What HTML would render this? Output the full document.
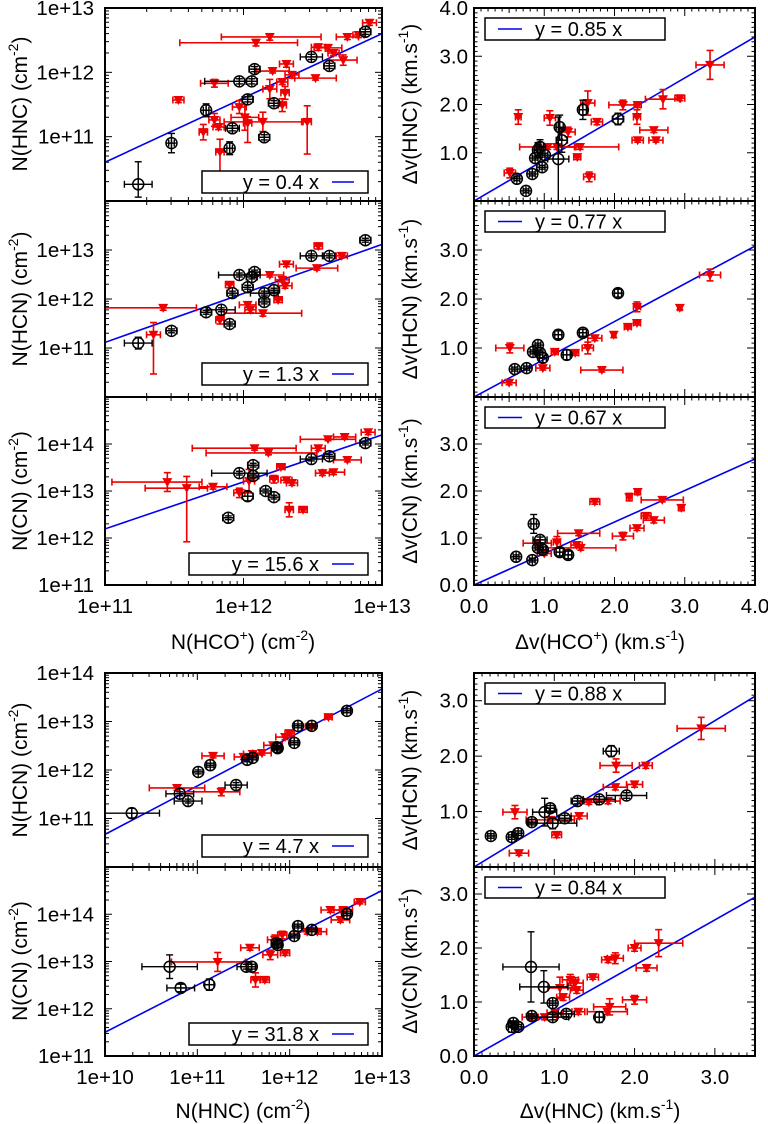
<!DOCTYPE html>
<html><head><meta charset="utf-8"><style>
html,body{margin:0;padding:0;background:#fff}
svg{display:block;font-family:"Liberation Sans",sans-serif}
</style></head><body>
<svg id="fig" width="768" height="1124" viewBox="0 0 768 1124" xmlns="http://www.w3.org/2000/svg"></svg>
<script>
// ---------- data (log10 values for column densities, km/s for linewidths) ----------
const slopes = [0.4, 1.3, 15.6, 0.85, 0.77, 0.67, 4.7, 31.8, 0.88, 0.84];
const legendLabels = ["y = 0.4 x","y = 1.3 x","y = 15.6 x","y = 0.85 x","y = 0.77 x","y = 0.67 x","y = 4.7 x","y = 31.8 x","y = 0.88 x","y = 0.84 x"];
const logTicksTopX = ["1e+11","1e+12","1e+13"];
const logTicksBotX = ["1e+10","1e+11","1e+12","1e+13"];
const linTicksTopX = ["0.0","1.0","2.0","3.0","4.0"];
const linTicksBotX = ["0.0","1.0","2.0","3.0"];

const hncHcoBlack = [[11.24,10.26,0.1,[0.2,0.35]],[11.48,10.9,0.02,0.15],[11.73,11.41,0.02,0.1],[11.92,11.13,0.05,0.04],[11.90,10.82,0.02,0.1],[11.97,11.86,[0.25,0.05],0.04],[12.06,11.86],[12.08,12.05],[12.03,11.58],[12.15,10.99],[12.22,11.52],[12.49,12.24,0.08,0.04],[12.62,12.10],[12.88,12.63]];
const hncHcoRed = [[11.53,11.57],[11.71,11.07,0.03,0.12],[11.79,11.83,0.1,0.06],[11.79,11.26,0.04,0.1],[11.83,10.76,0.03,[0.3,0.2]],[11.82,11.15],[11.97,11.46,0.05,0.1],[12.01,11.30,0.1,0.2],[12.03,11.21,0.03,[0.3,0.1]],[12.09,12.46,[0.55,0.30],0.05],[12.19,12.55,[0.35,0.37],0.05],[12.21,12.02,0.12,0.03],[12.19,11.74,0.05,0.15],[12.14,11.23,0.28,0.15],[12.28,11.85],[12.30,11.68,0.03,0.1],[12.28,11.49,0.03,0.1],[12.31,12.13,0.05,0.05],[12.35,11.96,0.05,0.05],[12.46,11.23,0.03,[0.5,0.25]],[12.52,11.91,0.15,0.03],[12.54,12.39,0.05,0.05],[12.61,12.38,0.1,0.05],[12.65,12.30],[12.72,12.19,0.1,0.08],[12.75,12.55,0.08,0.04],[12.83,12.58],[12.91,12.77,0.05,0.04]];

const hcnHcoBlack = [[11.24,11.10,0.1,0.12],[11.48,11.35],[11.90,11.49],[11.73,11.73],[11.84,11.78,0.1,0.04],[11.92,12.12],[11.97,12.49,0.15,0.04],[12.06,12.45],[12.08,12.55],[12.03,12.24],[12.15,11.94],[12.15,12.12,0.1,0.04],[12.22,12.18],[12.49,12.88,0.08,0.04],[12.62,12.88],[12.88,13.20]];
const hcnHcoRed = [[11.42,11.82,[0.42,0.24],0.05],[11.35,11.27,0.05,[0.8,0.25]],[11.83,11.57,0.03,0.08],[11.90,12.29,0.03,0.06],[12.03,11.88,0.06,0.05],[12.05,11.78,0.04,0.06],[12.14,11.71,0.28,0.06],[12.19,12.49,0.1,0.04],[12.25,11.98,0.03,0.05],[12.28,12.39,0.05,0.04],[12.30,12.27,0.05,0.05],[12.31,12.71,0.05,0.05],[12.53,12.63,0.15,0.04],[12.54,13.08,0.03,0.06],[12.71,12.88,0.04,0.04]];

const cnHcoBlack = [[11.89,12.43],[11.97,13.38,0.2,0.04],[12.07,13.55],[12.07,13.32],[12.03,12.89,0.04,0.1],[12.16,13.0],[12.22,12.87],[12.49,13.68,0.08,0.04],[12.62,13.74],[12.88,14.02]];
const cnHcoRed = [[11.45,13.19,[0.4,0.25],0.2],[11.59,13.06,[0.3,0.15],[1.14,0.25]],[11.78,13.09,0.1,0.05],[11.97,12.96,0.04,0.1],[12.04,13.21,0.04,0.25],[12.08,13.91,[0.45,0.3],0.04],[12.18,13.81,[0.45,0.35],0.04],[12.22,13.25,0.03,0.08],[12.27,13.51,0.03,0.05],[12.31,13.23,0.04,0.05],[12.35,13.17,0.04,0.05],[12.33,12.6,0.03,0.15],[12.43,12.6,0.03,0.05],[12.54,13.91,0.05,0.05],[12.61,14.1,0.2,0.03],[12.57,13.38,0.05,0.05],[12.65,13.40,0.08,0.05],[12.73,14.15,0.08,0.04],[12.75,13.66,0.1,0.04],[12.90,14.25,0.05,0.05]];

const dvHncBlack = [[0.61,0.46],[0.74,0.21],[0.83,0.56],[0.97,0.70],[0.87,0.89],[0.91,1.06,0.05,0.15],[0.94,1.12,0.05,0.15],[1.01,0.95],[1.20,0.87,0.15,0.87],[1.22,1.53,0.05,0.25],[1.25,1.26,0.08,0.25],[1.55,1.89,0.05,0.2],[2.05,1.70,0.08,0.12]];
const dvHncRed = [[0.51,0.58,0.08,0.1],[0.63,1.74,0.04,0.15],[1.08,1.72,0.08,0.15],[1.05,1.12,0.4,0.05],[1.18,1.12,0.25,0.05],[1.34,1.43,0.1,0.1],[1.47,0.91,0.05,0.05],[1.51,1.12,0.55,0.05],[1.62,2.03,0.1,0.25],[1.75,1.64,0.08,0.06],[1.64,0.50,0.08,0.1],[2.12,1.99,0.2,0.1],[2.33,1.99,0.05,0.05],[2.32,1.74,0.05,0.15],[2.33,1.26,0.08,0.04],[2.56,1.47,0.2,0.05],[2.59,1.26,0.1,0.04],[2.69,2.11,0.25,0.2],[2.93,2.13,0.07,0.05],[3.36,2.82,0.2,0.3]];

const dvHcnBlack = [[0.58,0.57],[0.75,0.59],[0.84,0.92],[0.91,1.06],[0.94,0.90],[0.98,0.80,0.05,0.1],[1.20,1.27,0.05,0.08],[1.32,0.86,0.05,0.1],[1.55,1.31,0.05,0.07],[2.05,2.12,0.05,0.08]];
const dvHcnRed = [[0.50,0.29,0.1,0.04],[0.51,1.0,0.2,0.1],[0.98,0.59,0.1,0.04],[1.15,0.92,0.05,0.05],[1.44,0.90,0.05,0.05],[1.62,1.0,0.08,0.12],[1.72,1.20,0.1,0.05],[1.82,0.55,0.3,0.04],[1.99,1.27,0.03,0.06],[2.19,1.43,0.05,0.04],[2.32,1.51,0.05,0.04],[2.32,1.84,0.05,0.1],[2.93,1.82,0.03,0.04],[3.36,2.49,0.15,0.12]];

const dvCnBlack = [[0.60,0.60],[0.83,0.53],[0.85,1.30,0.04,0.2],[0.94,0.96,0.1,0.06],[0.91,0.79],[0.98,0.75,0.05,0.06],[1.22,0.70,0.05,0.08],[1.34,0.64,0.05,0.08]];
const dvCnRed = [[0.90,0.89,0.2,0.05],[1.0,0.67,0.1,0.04],[1.18,0.91,0.05,0.12],[1.49,1.10,0.3,0.05],[1.46,0.85,0.08,0.05],[1.52,0.79,0.5,0.05],[1.72,1.77,0.07,0.05],[2.12,1.04,0.15,0.08],[2.21,1.87,0.04,0.08],[2.33,1.98,0.04,0.06],[2.32,1.21,0.1,0.05],[2.45,1.47,0.07,0.05],[2.56,1.38,0.15,0.06],[2.68,1.81,0.3,0.04],[2.95,1.64,0.04,0.06]];

const hcnHncBlack = [[10.29,11.11,[0.3,0.3],0.1],[10.81,11.51,0.15,0.04],[10.90,11.36,0.15,0.04],[11.01,11.96,0.05,0.04],[11.14,12.10,0.04,0.04],[11.42,11.69,0.12,0.05],[11.54,12.21,0.05,0.04],[11.60,12.25],[11.86,12.47,0.05,0.04],[11.87,12.45],[12.05,12.56],[12.09,12.91],[12.24,12.91],[12.62,13.22]];
const hcnHncRed = [[10.78,11.63,[0.3,0.3],0.05],[11.17,12.29,0.12,0.04],[11.26,11.55,[0.4,0.2],0.08],[11.50,12.27,0.1,0.05],[11.60,12.33,0.1,0.05],[11.70,12.35,0.1,0.04],[11.82,12.51,0.1,0.05],[11.95,12.68,0.1,0.05],[12.00,12.76,0.05,0.04],[12.22,12.89,0.05,0.04],[12.42,13.09,0.04,0.04]];

const cnHncBlack = [[10.70,12.89,0.3,0.25],[10.82,12.44,0.15,0.08],[11.13,12.51,0.05,0.12],[11.53,12.89,0.1,0.05],[11.59,12.89,0.04,0.05],[11.86,13.39,0.06,0.04],[11.87,13.35],[12.05,13.54],[12.09,13.75],[12.24,13.67],[12.62,14.01]];
const cnHncRed = [[11.22,12.99,[0.5,0.3],0.2],[11.57,13.29,0.1,0.05],[11.63,12.61,0.05,0.15],[11.73,12.61,0.05,0.05],[11.79,13.14,0.08,0.1],[11.84,13.46,0.08,0.1],[11.92,13.56,0.05,0.08],[11.95,13.18,0.05,0.05],[12.19,13.63,0.15,0.05],[12.30,13.63,0.1,0.05],[12.44,14.09,0.1,0.05],[12.55,13.88,0.1,0.05],[12.58,14.09,0.1,0.05],[12.76,14.26,0.06,0.04]];

const dvHcnHncBlack = [[0.21,0.56,0.04,0.04],[0.47,0.54],[0.55,0.61],[0.72,0.81,0.05,0.05],[0.88,0.99,0.15,0.25],[0.95,1.06,0.05,0.05],[0.98,0.79,0.3,0.1],[1.13,0.88,0.08,0.05],[1.29,1.19,0.08,0.05],[1.56,1.22,0.2,0.05],[1.71,2.09,0.1,0.1],[1.90,1.29,0.25,0.05]];
const dvHcnHncRed = [[0.51,0.99,0.15,0.12],[0.56,0.25,0.12,0.04],[0.95,0.85,0.3,0.05],[1.03,0.58,0.06,0.05],[1.31,0.92,0.1,0.05],[1.43,1.17,0.1,0.04],[1.67,1.19,0.15,0.05],[1.76,1.44,0.15,0.05],[1.77,1.83,0.2,0.12],[2.00,1.49,0.1,0.05],[2.14,1.83,0.08,0.05],[2.83,2.50,0.3,0.2]];

const dvCnHncBlack = [[0.47,0.54,0.04,0.1],[0.49,0.61],[0.55,0.54],[0.71,1.65,0.35,0.65],[0.72,0.74],[0.87,1.28,0.3,0.3],[0.98,0.98],[0.98,0.72,0.2,0.05],[1.15,0.78,0.1,0.05],[1.56,0.72,0.05,0.1]];
const dvCnHncRed = [[0.70,0.72,0.1,0.05],[0.88,0.72,0.15,0.05],[1.01,0.80,0.1,0.05],[1.11,1.09,0.08,0.06],[1.07,1.26,0.15,0.2],[1.20,1.41,0.1,0.1],[1.26,1.35,0.1,0.1],[1.28,1.22,0.08,0.06],[1.30,0.82,0.08,0.05],[1.48,1.46,0.07,0.04],[1.66,0.82,0.25,0.05],[1.69,0.91,0.2,0.15],[1.67,1.78,0.08,0.05],[1.76,1.81,0.1,0.1],[2.00,1.04,0.15,0.08],[2.00,2.0,0.08,0.06],[2.15,1.63,0.13,0.06],[2.30,2.09,0.3,0.25]];

// ---------- drawing ----------
const NS = "http://www.w3.org/2000/svg";
const svg = document.getElementById("fig");
function mk(tag, parent){ const e=document.createElementNS(NS,tag); parent.appendChild(e); return e; }

const panels = [
 {id:"hnc-vs-hco",log:true,x0:105,x1:382,y0:8,y1:201,xmin:11,xmax:13,ymin:10,ymax:13,yt:["1e+11","1e+12","1e+13"],ytv:[11,12,13],xt:null,leg:[202,171,368,193,"right"],black:hncHcoBlack,red:hncHcoRed,k:0},
 {id:"hcn-vs-hco",log:true,x0:105,x1:382,y0:201,y1:397,xmin:11,xmax:13,ymin:10,ymax:14,yt:["1e+11","1e+12","1e+13"],ytv:[11,12,13],xt:null,leg:[202,363,368,385,"right"],black:hcnHcoBlack,red:hcnHcoRed,k:1},
 {id:"cn-vs-hco",log:true,x0:105,x1:382,y0:397,y1:585,xmin:11,xmax:13,ymin:11,ymax:15,yt:["1e+11","1e+12","1e+13","1e+14"],ytv:[11,12,13,14],xt:logTicksTopX,xtv:[11,12,13],leg:[189,553,368,575,"right"],black:cnHcoBlack,red:cnHcoRed,k:2},
 {id:"dv-hnc-vs-hco",log:false,x0:474,x1:755,y0:8,y1:201,xmin:0,xmax:4,ymin:0,ymax:4,yt:["1.0","2.0","3.0","4.0"],ytv:[1,2,3,4],xt:null,leg:[485,18,665,40,"left"],black:dvHncBlack,red:dvHncRed,k:3},
 {id:"dv-hcn-vs-hco",log:false,x0:474,x1:755,y0:201,y1:397,xmin:0,xmax:4,ymin:0,ymax:4,yt:["1.0","2.0","3.0"],ytv:[1,2,3],xt:null,leg:[485,211,665,232,"left"],black:dvHcnBlack,red:dvHcnRed,k:4},
 {id:"dv-cn-vs-hco",log:false,x0:474,x1:755,y0:397,y1:585,xmin:0,xmax:4,ymin:0,ymax:4,yt:["0.0","1.0","2.0","3.0"],ytv:[0,1,2,3],xt:linTicksTopX,xtv:[0,1,2,3,4],leg:[485,407,665,428,"left"],black:dvCnBlack,red:dvCnRed,k:5},
 {id:"hcn-vs-hnc",log:true,x0:105,x1:382,y0:673,y1:867,xmin:10,xmax:13,ymin:10,ymax:14,yt:["1e+11","1e+12","1e+13","1e+14"],ytv:[11,12,13,14],xt:null,leg:[202,835,368,857,"right"],black:hcnHncBlack,red:hcnHncRed,k:6},
 {id:"cn-vs-hnc",log:true,x0:105,x1:382,y0:867,y1:1056,xmin:10,xmax:13,ymin:11,ymax:15,yt:["1e+11","1e+12","1e+13","1e+14"],ytv:[11,12,13,14],xt:logTicksBotX,xtv:[10,11,12,13],leg:[189,1023,368,1045,"right"],black:cnHncBlack,red:cnHncRed,k:7},
 {id:"dv-hcn-vs-hnc",log:false,x0:474,x1:755,y0:673,y1:867,xmin:0,xmax:3.5,ymin:0,ymax:3.5,yt:["1.0","2.0","3.0"],ytv:[1,2,3],xt:null,leg:[485,683,665,704,"left"],black:dvHcnHncBlack,red:dvHcnHncRed,k:8},
 {id:"dv-cn-vs-hnc",log:false,x0:474,x1:755,y0:867,y1:1056,xmin:0,xmax:3.5,ymin:0,ymax:3.5,yt:["0.0","1.0","2.0","3.0"],ytv:[0,1,2,3],xt:linTicksBotX,xtv:[0,1,2,3],leg:[485,877,665,898,"left"],black:dvCnHncBlack,red:dvCnHncRed,k:9}
];

function line(g,x1,y1,x2,y2,col,w){const l=mk("line",g);l.setAttribute("x1",x1);l.setAttribute("y1",y1);l.setAttribute("x2",x2);l.setAttribute("y2",y2);l.setAttribute("stroke",col);l.setAttribute("stroke-width",w);return l;}
function txt(g,x,y,s,anchor,size){const t=mk("text",g);t.setAttribute("x",x);t.setAttribute("y",y);t.setAttribute("text-anchor",anchor);t.setAttribute("font-size",size||20.5);t.textContent=s;return t;}

panels.forEach(p=>{
  const g=mk("g",svg);
  
  
  const sx=v=>p.x0+(v-p.xmin)/(p.xmax-p.xmin)*(p.x1-p.x0);
  const sy=v=>p.y1-(v-p.ymin)/(p.ymax-p.ymin)*(p.y1-p.y0);
  const cp=mk("clipPath",g); cp.setAttribute("id","c"+p.k);
  const cr=mk("rect",cp); cr.setAttribute("x",p.x0);cr.setAttribute("y",p.y0);cr.setAttribute("width",p.x1-p.x0);cr.setAttribute("height",p.y1-p.y0);
  const tg=mk("g",g);
  
  
  function xtick(v,len){const X=sx(v);line(tg,X,p.y1,X,p.y1-len,"#000",1);line(tg,X,p.y0,X,p.y0+len,"#000",1);}
  function ytick(v,len){const Y=sy(v);line(tg,p.x0,Y,p.x0+len,Y,"#000",1);line(tg,p.x1,Y,p.x1-len,Y,"#000",1);}
  if(p.log){
    for(let d=Math.floor(p.xmin);d<p.xmax;d++){xtick(d,7);for(let m=2;m<10;m++)xtick(d+Math.log10(m),4);}
    for(let d=Math.floor(p.ymin);d<p.ymax;d++){ytick(d,7);for(let m=2;m<10;m++)ytick(d+Math.log10(m),4);}
  } else {
    for(let i=0;i<=Math.round(p.xmax*10);i++){const v=i/10;xtick(v,i%10==0?8:(i%5==0?5:3.5));}
    for(let i=0;i<=Math.round(p.ymax*10);i++){const v=i/10;ytick(v,i%10==0?8:(i%5==0?5:3.5));}
  }
  const lx = p.log? p.x0-11 : p.x0-6;
  p.yt.forEach((s,i)=>{const t=txt(g,lx,sy(p.ytv[i])+7,s,"end");
    
    });
  if(p.xt){p.xt.forEach((s,i)=>{const t=txt(g,sx(p.xtv[i]),p.y1+28,s,"middle");
    
    });}
  const fl=mk("line",g);
  
  
  fl.setAttribute("clip-path","url(#c"+p.k+")");
  let ya,yb;
  if(p.log){ya=p.xmin+Math.log10(slopes[p.k]);yb=p.xmax+Math.log10(slopes[p.k]);}
  else {ya=p.xmin*slopes[p.k];yb=p.xmax*slopes[p.k];}
  fl.setAttribute("x1",sx(p.xmin));fl.setAttribute("y1",sy(ya));fl.setAttribute("x2",sx(p.xmax));fl.setAttribute("y2",sy(yb));
  fl.setAttribute("stroke","#0000ee");fl.setAttribute("stroke-width",1.6);
  function errs(pt,col,dx,dy,w){
    const xe=pt[2]!==undefined?pt[2]:dx, ye=pt[3]!==undefined?pt[3]:dy;
    const xl=Array.isArray(xe)?xe[0]:xe, xh=Array.isArray(xe)?xe[1]:xe;
    const yl=Array.isArray(ye)?ye[0]:ye, yh=Array.isArray(ye)?ye[1]:ye;
    const X=sx(pt[0]),Y=sy(pt[1]);
    const eg=mk("g",g); eg.setAttribute("clip-path","url(#c"+p.k+")");
    
    
    const a=sx(pt[0]-xl),b=sx(pt[0]+xh),c=sy(pt[1]-yl),d=sy(pt[1]+yh);
    line(eg,a,Y,b,Y,col,w);line(eg,a,Y-3.5,a,Y+3.5,col,w);line(eg,b,Y-3.5,b,Y+3.5,col,w);
    line(eg,X,c,X,d,col,w);line(eg,X-3.5,c,X+3.5,c,col,w);line(eg,X-3.5,d,X+3.5,d,col,w);
    return [X,Y];
  }
  const dflt=0.04;
  p.red.forEach(pt=>{
    const [X,Y]=errs(pt,"#ee0000",dflt,dflt,1.6);
    const tri=mk("polygon",g);
    
    
    tri.setAttribute("points",(X-5)+","+(Y-4)+" "+(X+5)+","+(Y-4)+" "+X+","+(Y+5));
    tri.setAttribute("fill","#ee0000");
  });
  p.black.forEach(pt=>{
    const [X,Y]=errs(pt,"#000",dflt,dflt,1.4);
    const c=mk("circle",g);
    
    
    c.setAttribute("cx",X);c.setAttribute("cy",Y);c.setAttribute("r",5.5);c.setAttribute("fill","none");c.setAttribute("stroke","#000");c.setAttribute("stroke-width",1.5);
    line(g,X-5.5,Y,X+5.5,Y,"#000",1.3);line(g,X,Y-5.5,X,Y+5.5,"#000",1.3);
  });
  const fr=mk("rect",g);
  
  
  fr.setAttribute("x",p.x0);fr.setAttribute("y",p.y0);fr.setAttribute("width",p.x1-p.x0);fr.setAttribute("height",p.y1-p.y0);
  fr.setAttribute("fill","none");fr.setAttribute("stroke","#000");fr.setAttribute("stroke-width",2);
  const L=p.leg; const lg=mk("g",g);
  
  
  const lr=mk("rect",lg);lr.setAttribute("x",L[0]);lr.setAttribute("y",L[1]);lr.setAttribute("width",L[2]-L[0]);lr.setAttribute("height",L[3]-L[1]);
  lr.setAttribute("fill","#fff");lr.setAttribute("stroke","#000");lr.setAttribute("stroke-width",1.5);
  const my=(L[1]+L[3])/2;
  if(L[4]=="right"){
    txt(lg,L[2]-49,my+7,legendLabels[p.k],"end",20);
    line(lg,L[2]-36,my,L[2]-14,my,"#0000ee",1.6);
  } else {
    line(lg,L[0]+13,my,L[0]+37,my,"#0000ee",1.6);
    txt(lg,L[0]+50,my+7,legendLabels[p.k],"start",20);
  }
});

function title(x,y,rot,html,name){
  const t=mk("text",svg);
  
  
  t.setAttribute("x",x);t.setAttribute("y",y);t.setAttribute("text-anchor","middle");t.setAttribute("font-size",21);
  if(rot)t.setAttribute("transform","rotate(-90 "+x+" "+y+")");
  t.innerHTML=html;
}
const sup=s=>'<tspan dy="-9" font-size="14">'+s+'</tspan><tspan dy="9">';
title(27,104,true,'N(HNC) (cm'+sup('-2')+')</tspan>','y-axis-title-hnc');
title(27,299,true,'N(HCN) (cm'+sup('-2')+')</tspan>','y-axis-title-hcn');
title(27,491,true,'N(CN) (cm'+sup('-2')+')</tspan>','y-axis-title-cn');
title(27,770,true,'N(HCN) (cm'+sup('-2')+')</tspan>','y-axis-title-hcn-2');
title(27,961,true,'N(CN) (cm'+sup('-2')+')</tspan>','y-axis-title-cn-2');
title(417,104,true,'Δv(HNC) (km.s'+sup('-1')+')</tspan>','y-axis-title-dv-hnc');
title(417,299,true,'Δv(HCN) (km.s'+sup('-1')+')</tspan>','y-axis-title-dv-hcn');
title(417,491,true,'Δv(CN) (km.s'+sup('-1')+')</tspan>','y-axis-title-dv-cn');
title(417,770,true,'Δv(HCN) (km.s'+sup('-1')+')</tspan>','y-axis-title-dv-hcn-2');
title(417,961,true,'Δv(CN) (km.s'+sup('-1')+')</tspan>','y-axis-title-dv-cn-2');
title(243,649,false,'N(HCO'+sup('+')+') (cm'+sup('-2')+')</tspan>','x-axis-title-hco');
title(600,649,false,'Δv(HCO'+sup('+')+') (km.s'+sup('-1')+')</tspan>','x-axis-title-dv-hco');
title(243,1118,false,'N(HNC) (cm'+sup('-2')+')</tspan>','x-axis-title-hnc');
title(600,1118,false,'Δv(HNC) (km.s'+sup('-1')+')</tspan>','x-axis-title-dv-hnc');
</script>
</body></html>
